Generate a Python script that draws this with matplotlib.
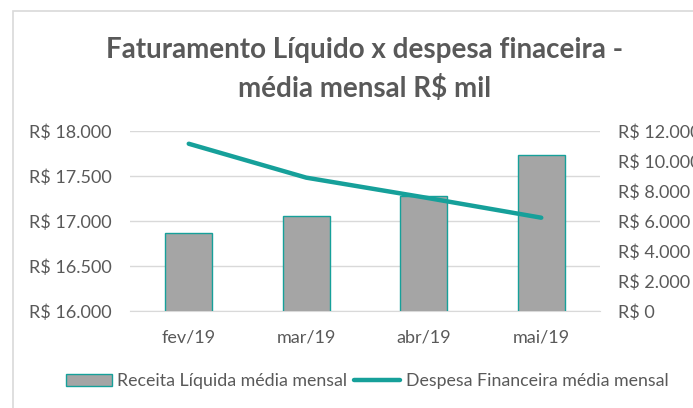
import matplotlib
matplotlib.use("Agg")
import matplotlib.pyplot as plt
from matplotlib.patches import Rectangle
from matplotlib.ticker import FuncFormatter

categories = ["fev/19", "mar/19", "abr/19", "mai/19"]
receita = [16870, 17055, 17280, 17735]
despesa = [11150, 8890, 7580, 6220]
left_ticks = [16000, 16500, 17000, 17500, 18000]
right_ticks = [0, 2000, 4000, 6000, 8000, 10000, 12000]

FONT = "Lato"
TXT = "#595959"
TEAL = "#16a09a"
GRID = "#d9d9d9"

plt.rcParams["font.family"] = [FONT, "DejaVu Sans"]

fig = plt.figure(figsize=(6.93, 4.08), dpi=100)
W, H = 693, 408
# plot area in pixels: x 130..600, y 131..311
ax = fig.add_axes([130 / W, 1 - 311 / H, 470 / W, 180 / H])
ax2 = ax.twinx()

def brl(v, pos=None):
    s = f"{int(round(v)):,}".replace(",", ".")
    return f"R$ {s}"

x = list(range(len(categories)))
ax.bar(x, receita, width=0.4, color="#a5a5a5", edgecolor=TEAL, linewidth=1.0,
       zorder=3, label="Receita Líquida média mensal")
ax.set_ylim(16000, 18000)
ax.set_yticks(left_ticks)
ax.yaxis.set_major_formatter(FuncFormatter(brl))
ax.set_xlim(-0.5, 3.5)
ax.set_xticks(x)
ax.set_xticklabels(categories)
ax.grid(axis="y", color=GRID, linewidth=1.0, zorder=0)
ax.set_axisbelow(True)

ln, = ax2.plot(x, despesa, color=TEAL, linewidth=3.2, solid_capstyle="round",
               label="Despesa Financeira média mensal", zorder=4)
ax2.set_ylim(0, 12000)
ax2.set_yticks(right_ticks)
ax2.yaxis.set_major_formatter(FuncFormatter(brl))

for a in (ax, ax2):
    for sp in a.spines.values():
        sp.set_visible(False)
    a.tick_params(length=0, labelsize=13, labelcolor=TXT)
ax.spines["bottom"].set_visible(True)
ax.spines["bottom"].set_color(GRID)
ax.tick_params(axis="y", pad=13)
ax.tick_params(axis="x", pad=13)
ax2.tick_params(axis="y", pad=13)
for lab in ax2.get_yticklabels():
    lab.set_horizontalalignment("left")

fig.text(365 / W, 1 - 50 / H, "Faturamento Líquido x despesa finaceira -",
         ha="center", va="center", fontsize=20, fontweight="bold", color=TXT)
fig.text(365 / W, 1 - 88 / H, "média mensal R$ mil",
         ha="center", va="center", fontsize=20, fontweight="bold", color=TXT)

# chart area border
fig.patches.append(Rectangle((13 / W, -0.05), 1.1, 1 - 11 / H + 0.05,
                             transform=fig.transFigure, fill=False,
                             edgecolor="#d9d9d9", linewidth=1.2))

h1, l1 = ax.get_legend_handles_labels()
h2, l2 = ax2.get_legend_handles_labels()
leg = fig.legend(h1 + h2, l1 + l2, loc="center", bbox_to_anchor=(367 / W, 1 - 381 / H),
                 ncol=2, frameon=False, fontsize=12.8, handlelength=2.6,
                 handletextpad=0.3, columnspacing=0.4, labelcolor=TXT)

fig.savefig("out.png", dpi=100)
